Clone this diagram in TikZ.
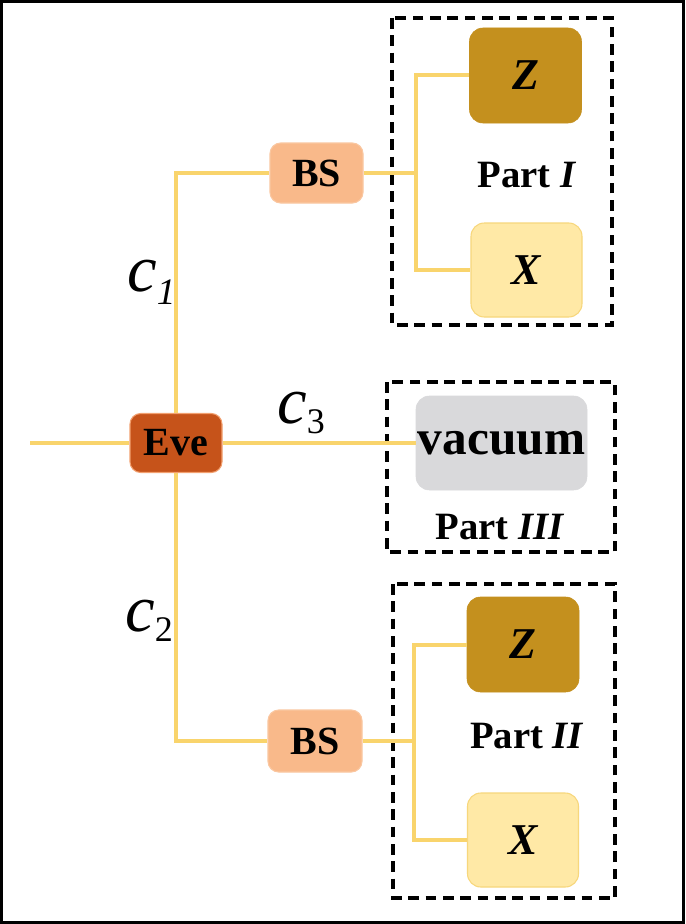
\documentclass[tikz,border=0pt]{standalone}
\usepackage{fontspec}
\setmainfont{Liberation Serif}
\definecolor{wire}{HTML}{F9D46C}
\definecolor{bsfill}{HTML}{F9B98A}
\definecolor{evefill}{HTML}{C6531A}
\definecolor{evedraw}{HTML}{F2A070}
\definecolor{zfill}{HTML}{C4901E}
\definecolor{xfill}{HTML}{FFE9A6}
\definecolor{xdraw}{HTML}{F7D77C}
\definecolor{vacfill}{HTML}{D9D9DB}
\tikzset{
  box/.style={rectangle, rounded corners=8pt, inner sep=0pt, font=\bfseries\fontsize{30}{30}\selectfont},
  bsbox/.style={box, fill=bsfill, draw=bsfill!80!white, line width=0.8pt, minimum width=93*0.75pt, minimum height=60*0.75pt},
  evebox/.style={box, fill=evefill, draw=evedraw, line width=0.8pt, minimum width=92*0.75pt, minimum height=59*0.75pt},
  zbox/.style={box, rounded corners=10pt, fill=zfill, draw=zfill, minimum width=112*0.75pt, minimum height=95*0.75pt, font=\bfseries\itshape\fontsize{33}{33}\selectfont},
  xbox/.style={box, rounded corners=10pt, fill=xfill, draw=xdraw, line width=0.8pt, minimum width=111*0.75pt, minimum height=94*0.75pt, font=\bfseries\itshape\fontsize{33}{33}\selectfont},
  vacbox/.style={box, rounded corners=10pt, fill=vacfill, draw=vacfill, minimum width=171*0.75pt, minimum height=94*0.75pt, font=\bfseries\fontsize{37}{37}\selectfont},
  wireline/.style={draw=wire, line width=3pt},
  partbox/.style={draw=black, line width=2.3pt, dash pattern=on 8pt off 5pt},
  partlabel/.style={inner sep=0pt, font=\bfseries\fontsize{29}{29}\selectfont},
  clabel/.style={inner sep=0pt, anchor=base west}
}
\begin{document}
\begin{tikzpicture}[x=0.75pt,y=-0.75pt]
\useasboundingbox (0,0) rectangle (685,924);
\fill[white] (0,0) rectangle (685,924);
\draw[line width=2.5pt] (1.5,1.5) rectangle (683.5,922.5);

% dashed part boxes
\draw[partbox] (392,18) rectangle (612,325);
\draw[partbox] (387,382) rectangle (615,552);
\draw[partbox] (393,584) rectangle (615,898);

% nodes
\node[evebox] (eve) at (176,443) {Eve};
\node[bsbox] (bs1) at (316.5,173) {BS};
\node[bsbox, minimum height=62*0.75pt, minimum width=94*0.75pt] (bs2) at (315,741) {BS};
\node[zbox] (z1) at (525.5,75.5) {Z};
\node[xbox] (x1) at (526.5,270) {X};
\node[zbox] (z2) at (523,644.5) {Z};
\node[xbox] (x2) at (523,840) {X};
\node[vacbox] (vac) at (501.5,443) {vacuum};

\node[partlabel] (p1) at (527,175) {Part \textit{I}};
\node[partlabel] (p3) at (500,527) {Part \textit{III}};
\node[partlabel] (p2) at (527,736) {Part \textit{II}};

\coordinate (in) at (30,443);
\coordinate (j1) at (416,173);
\coordinate (j2) at (414,741);

% wires
\draw[wireline] (in) -- (eve.west);
\draw[wireline] (eve.north) |- (bs1.west);
\draw[wireline] (eve.south) |- (bs2.west);
\draw[wireline] (eve.east) -- (vac.west);
\draw[wireline] (bs1.east) -- (j1);
\draw[wireline] (z1.west) -| (j1) |- (x1.west);
\draw[wireline] (bs2.east) -- (j2);
\draw[wireline] (z2.west) -| (j2) |- (x2.west);

% channel labels
\node[clabel] (c1) at (127,291) {\fontsize{50}{50}\selectfont\textit{c}\raisebox{-10pt}{\fontsize{28}{28}\selectfont\textit{1}}};
\node[clabel] (c3) at (277,423) {\fontsize{50}{50}\selectfont\textit{c}\raisebox{-8pt}{\fontsize{27}{27}\selectfont 3}};
\node[clabel] (c2) at (125,631) {\fontsize{50}{50}\selectfont\textit{c}\raisebox{-8pt}{\fontsize{27}{27}\selectfont 2}};
\end{tikzpicture}
\end{document}
